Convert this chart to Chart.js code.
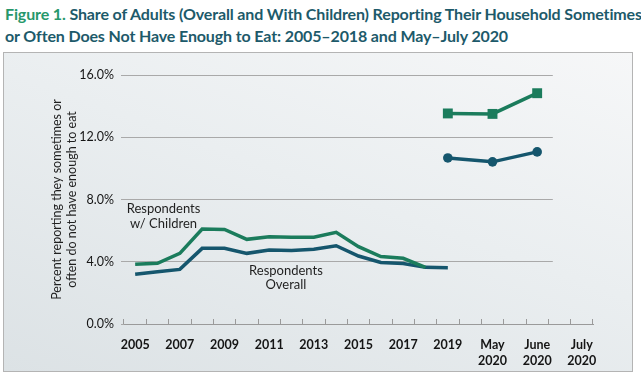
<!DOCTYPE html>
<html>
<head>
<meta charset="utf-8">
<script src="https://cdn.jsdelivr.net/npm/chart.js@4.4.0/dist/chart.umd.min.js"></script>
<style>
  html, body { margin: 0; padding: 0; background: #fff; }
  body { width: 641px; height: 377px; position: relative; overflow: hidden; font-family: Lato, sans-serif; }
  #title { position: absolute; left: 5px; top: 3px; font-weight: 700; font-size: 16px; line-height: 22px; color: #1d5a6a; letter-spacing: -0.13px; white-space: nowrap; }
  #title .fig { color: #27986b; }
  #panel { position: absolute; left: 3px; top: 52px; width: 628px; height: 318px; border: 1px solid #b4b4b4;
    background: linear-gradient(20deg, #dce2e5 0%, #eaeef0 55%, #f6f7f8 100%); }
  #panel canvas { display: block; }
</style>
</head>
<body>
<div id="title"><span class="fig">Figure 1.</span> Share of Adults (Overall and With Children) Reporting Their Household Sometimes<br>or Often Does Not Have Enough to Eat: 2005–2018 and May–July 2020</div>
<div id="panel"><canvas id="myChart" width="628" height="318"></canvas></div>
<script>
// x categories (one slot per tick bin); only every other one gets a label
const categories = ['2005', '2006', '2007', '2008', '2009', '2010', '2011', '2012', '2013', '2014',
  '2015', '2016', '2017', '2018', '2019', '', 'May 2020', '', 'June 2020', '', 'July 2020'];

// yearly series, percent
const overallYearly = [3.2, 3.36, 3.51, 4.86, 4.87, 4.54, 4.75, 4.72, 4.8, 5.03, 4.37, 3.95, 3.88, 3.64, 3.62];
const childrenYearly = [3.84, 3.9, 4.54, 6.1, 6.08, 5.44, 5.61, 5.57, 5.57, 5.89, 4.97, 4.33, 4.22, 3.64];

// May, June, July 2020
const overall2020 = [10.67, 10.42, 11.06];
const children2020 = [13.53, 13.5, 14.83];
// slots where the 2020 points sit in the original figure
const slots2020 = [14, 16, 18];

const yTicks = [0, 4, 8, 12, 16];

const green = '#1b7c5c';
const blue = '#15566d';

function fullLength(values, start) {
  const arr = categories.map(() => null);
  values.forEach((v, i) => { arr[start + i] = v; });
  return arr;
}
function atSlots(values) {
  const arr = categories.map(() => null);
  values.forEach((v, i) => { arr[slots2020[i]] = v; });
  return arr;
}

// horizontal gridlines stop short of the axis end in the original
const shortGrid = {
  id: 'shortGrid',
  afterLayout(chart) {
    const y = chart.scales.y;
    if (y._shortGrid) return;
    const orig = y.drawGrid;
    y.drawGrid = function (area) {
      const right = chart.scales.x.getPixelForValue(18.7);
      orig.call(this, { ...area, right });
    };
    y._shortGrid = true;
  }
};

// in-chart labels for the two yearly lines
const lineLabels = {
  id: 'lineLabels',
  afterDatasetsDraw(chart) {
    const { ctx, scales: { x, y } } = chart;
    ctx.save();
    ctx.font = '13px Lato';
    ctx.fillStyle = '#1f1f1f';
    ctx.textAlign = 'center';
    ctx.textBaseline = 'middle';
    const draw = (lines, xv, yv) => {
      const px = x.getPixelForValue(xv);
      const py = y.getPixelForValue(yv);
      lines.forEach((t, i) => ctx.fillText(t, px, py + i * 14.5));
    };
    draw(['Respondents', 'w/ Children'], 1.27, 7.37);
    draw(['Respondents', 'Overall'], 6.75, 3.42);
    ctx.restore();
  }
};

const ctx = document.getElementById('myChart');
new Chart(ctx, {
  type: 'line',
  data: {
    labels: categories,
    datasets: [
      { label: 'Children', data: fullLength(childrenYearly, 0), borderColor: green, borderWidth: 3.5, pointRadius: 0, spanGaps: false },
      { label: 'Overall', data: fullLength(overallYearly, 0), borderColor: blue, borderWidth: 3.5, pointRadius: 0, spanGaps: false },
      { label: 'Children 2020', data: atSlots(children2020), borderColor: green, backgroundColor: green, borderWidth: 3.5,
        pointStyle: 'rect', pointRadius: 7, pointBorderWidth: 0, spanGaps: true },
      { label: 'Overall 2020', data: atSlots(overall2020), borderColor: blue, backgroundColor: blue, borderWidth: 3.5,
        pointStyle: 'circle', pointRadius: 4.8, pointBorderWidth: 0, spanGaps: true }
    ]
  },
  options: {
    responsive: false,
    animation: false,
    devicePixelRatio: 1,
    layout: { padding: { left: 0, right: 39, top: 22, bottom: 1 } },
    plugins: { legend: { display: false }, tooltip: { enabled: false } },
    scales: {
      x: {
        offset: true,
        grid: { offset: true, drawOnChartArea: false, tickLength: -5, color: '#9a9a9a' },
        border: { color: '#9a9a9a', width: 1 },
        ticks: {
          autoSkip: false,
          maxRotation: 0,
          padding: 18,
          color: '#151515',
          font: { family: 'Lato', size: 12.5, weight: 'bold', lineHeight: 1.28 },
          callback: (v, i) => (i % 2 === 0 ? categories[i].split(' ') : '')
        },
        afterFit: s => { s.height = 46; }
      },
      y: {
        min: 0,
        max: 16,
        afterBuildTicks: s => { s.ticks = yTicks.map(v => ({ value: v })); },
        grid: { color: '#a9a9a9', lineWidth: 1, tickLength: 3 },
        border: { display: false },
        ticks: {
          padding: 7,
          color: '#151515',
          font: { family: 'Lato', size: 12.5 },
          callback: v => v.toFixed(1) + '%'
        },
        title: {
          display: true,
          text: ['Percent reporting they sometimes or', 'often do not have enough to eat'],
          color: '#1f1f1f',
          font: { family: 'Lato', size: 12.5, lineHeight: 1.22 },
          padding: { top: 45, bottom: 0 }
        },
        afterFit: s => { s.width = 120; }
      }
    }
  },
  plugins: [shortGrid, lineLabels]
});
</script>
</body>
</html>
